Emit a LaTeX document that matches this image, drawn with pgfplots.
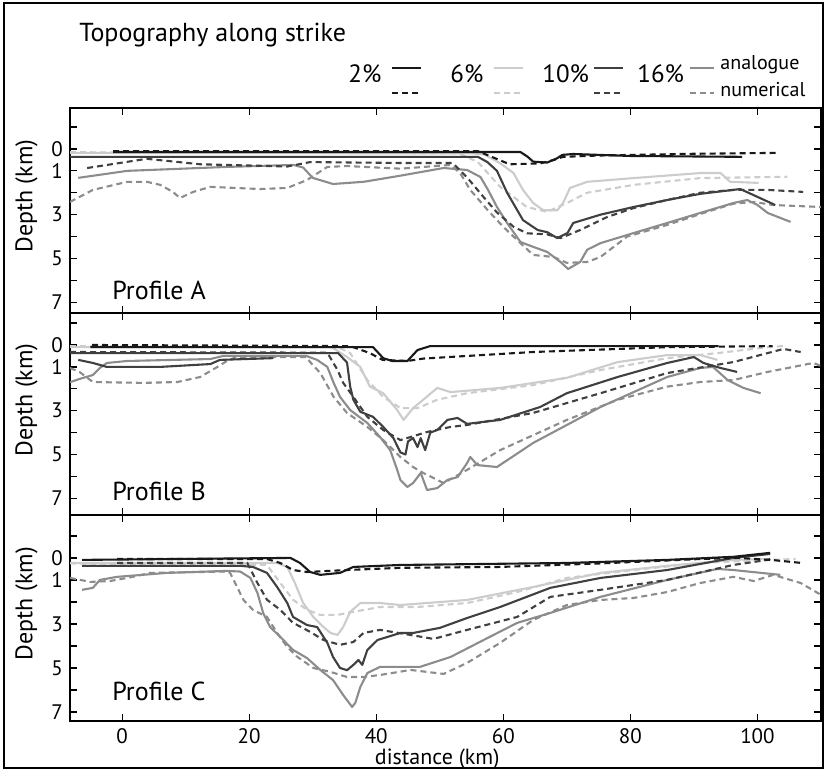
\documentclass[border=0pt]{standalone}
\usepackage{fontspec}
\setmainfont{PT Sans}
\usepackage{pgfplots}
\pgfplotsset{compat=1.18}

\definecolor{cA}{gray}{0.10}   % 2%
\definecolor{cB}{gray}{0.80}   % 6%
\definecolor{cC}{gray}{0.25}   % 10%
\definecolor{cD}{gray}{0.55}   % 16%

\tikzset{
  an/.style={line width=1.05pt, line join=round},
  nu/.style={line width=1.05pt, dash pattern=on 3pt off 2pt},
}
\pgfplotsset{
  panel/.style={
    scale only axis, width=375.5pt,
    xmin=-8.2, xmax=110, y dir=reverse,
    xtick={0,20,...,100}, ytick={-1,0,...,7},
    yticklabels={,0,1,,3,,5,,7},
    major tick length=3.5pt,
    tick style={black, line width=0.6pt},
    axis line style={line width=0.8pt},
    tick label style={font=\fontsize{10.5}{12}\selectfont},
    /pgf/number format/assume math mode=true,
    ylabel={Depth (km)},
    ylabel style={at={(axis description cs:-0.058,0.57)}, anchor=center,
                  font=\fontsize{12}{14}\selectfont},
    anchor=south west,
  },
}

\begin{document}
\begin{tikzpicture}
\path[use as bounding box] (0,0) rectangle (413.5pt,-385.5pt);
\draw[line width=1pt] (2pt,-1.5pt) rectangle (411.5pt,-384pt);

% title and legend
\node[anchor=base west, inner sep=0pt, font=\fontsize{13}{15}\selectfont] at (39.5pt,-20.5pt) {Topography along strike};
\begin{scope}[font=\fontsize{12.5}{14}\selectfont]
\node[anchor=base west, inner sep=0pt] at (174pt,-41.5pt) {2\%};
\draw[cA, an] (196pt,-34pt) -- (210.5pt,-34pt);
\draw[cA, nu] (196pt,-46.5pt) -- (210.5pt,-46.5pt);
\node[anchor=base west, inner sep=0pt] at (225pt,-41.5pt) {6\%};
\draw[cB, an] (247pt,-34pt) -- (261.5pt,-34pt);
\draw[cB, nu] (247pt,-46.5pt) -- (261.5pt,-46.5pt);
\node[anchor=base west, inner sep=0pt] at (271pt,-41.5pt) {10\%};
\draw[cC, an] (297pt,-34pt) -- (311.5pt,-34pt);
\draw[cC, nu] (297pt,-46.5pt) -- (311.5pt,-46.5pt);
\node[anchor=base west, inner sep=0pt] at (318.5pt,-41.5pt) {16\%};
\draw[cD, an] (345pt,-34pt) -- (357pt,-34pt);
\draw[cD, nu] (345pt,-46.5pt) -- (357pt,-46.5pt);
\end{scope}
\node[anchor=west, inner sep=0pt, font=\fontsize{10}{12}\selectfont] at (360pt,-32.5pt) {analogue};
\node[anchor=west, inner sep=0pt, font=\fontsize{10}{12}\selectfont] at (360pt,-45pt) {numerical};

% ---------------- Profile A ----------------
\begin{axis}[panel, at={(35pt,-156.5pt)}, height=102.5pt,
  ymin=-1.87, ymax=7.49, xticklabels={}]
\addplot[cB, nu] coordinates {(-8.2,0.15)(53,0.2)(56,0.6)(59.5,1.73)(63.7,2.65)(66.9,2.87)(70,2.47)(73.2,2.0)(80.5,1.64)(91,1.33)(104.7,1.27)};
\addplot[cB, an] coordinates {(-8.2,0.18)(55,0.2)(57,0.25)(59.5,0.65)(61.6,1.1)(63.1,1.87)(64.7,2.47)(66.3,2.8)(68.5,2.8)(69.4,2.47)(70.5,1.78)(73.2,1.5)(80.5,1.33)(91,1.1)(94.2,1.1)(95.7,1.5)(100.2,1.55)};
\addplot[cD, nu] coordinates {(-8.2,2.42)(-4.6,1.87)(0.8,1.5)(3.9,1.5)(6,1.64)(8,1.96)(9.1,2.24)(11.2,1.96)(13.9,1.73)(21.7,1.83)(26,1.78)(29.1,1.42)(32.3,0.82)(35.4,0.78)(43.8,0.9)(51.7,0.73)(53.2,1.1)(54.8,1.87)(57.5,2.78)(60,3.56)(62.7,4.3)(64.7,4.84)(67.9,4.93)(70,5.2)(73.2,5.16)(75.3,4.93)(79.5,4.0)(85.8,3.47)(91,2.97)(96.2,2.5)(99.4,2.42)(102.5,2.56)(110,2.65)};
\addplot[cD, an] coordinates {(-6.9,1.32)(0.8,1.0)(16.5,0.82)(27,0.73)(28.5,0.85)(30,1.32)(33.2,1.6)(38,1.5)(43.8,1.22)(50.6,0.87)(54.3,0.96)(56.4,1.28)(57.6,1.87)(59,2.65)(60.6,3.38)(62.7,4.25)(64.7,4.47)(66.9,4.7)(69,5.16)(70.2,5.48)(72.1,5.16)(73.2,4.6)(75.3,4.3)(80.5,3.84)(85.8,3.38)(91,2.92)(96.2,2.47)(98.4,2.33)(100,2.56)(101.6,2.92)(105.2,3.33)};
\addplot[cC, nu] coordinates {(-5.5,0.87)(3.9,0.45)(12.3,0.7)(26,0.8)(29.6,0.6)(43.8,0.64)(52,0.64)(54.3,1.3)(56.9,2.2)(59,2.9)(61.6,3.55)(63.7,3.85)(66.9,3.9)(69,4.07)(72.1,3.7)(76.4,3.1)(80.5,2.7)(85.8,2.33)(91,2.0)(96.2,1.87)(101.6,1.87)(107.2,1.96)};
\addplot[cC, an] coordinates {(-8.2,0.36)(56,0.36)(57.5,0.6)(59,1.0)(60.6,2.0)(63.1,3.25)(65.4,3.7)(66.9,3.8)(68.5,4.07)(70.1,3.84)(71,3.38)(75.3,3.0)(80.5,2.65)(85.8,2.33)(91,2.05)(97.3,1.83)(102.8,2.56)};
\addplot[cA, nu] coordinates {(-1.4,0.1)(56,0.1)(58.5,0.4)(61,0.7)(65.8,0.66)(68,0.5)(69.4,0.36)(75,0.3)(90,0.22)(103,0.18)};
\addplot[cA, an] coordinates {(-1.4,0.14)(62.7,0.14)(63.8,0.35)(64.7,0.58)(66.9,0.62)(68.5,0.42)(69.3,0.27)(71,0.23)(80,0.32)(97.6,0.36)};
\node[anchor=base west, font=\fontsize{13}{15}\selectfont] at (rel axis cs:0.047,0.068) {Profile A};
\end{axis}

% ---------------- Profile B ----------------
\begin{axis}[panel, at={(35pt,-257.5pt)}, height=101pt,
  ymin=-1.46, ymax=7.76, xticklabels={}]
\addplot[cB, nu] coordinates {(-8.2,0.05)(34,0.1)(35.9,0.37)(38.6,1.6)(41.1,2.37)(43.8,2.88)(46.5,2.88)(49.6,2.5)(54.3,2.2)(64.7,1.83)(75.3,1.14)(85.8,0.6)(93.7,0.37)(101.6,0.1)(104,0.05)};
\addplot[cB, an] coordinates {(-8.2,0.1)(33,0.1)(35.4,0.55)(37.5,1.0)(39,1.9)(41.1,2.2)(43.3,2.97)(44.3,3.42)(45.8,2.88)(47.4,2.5)(49.6,1.96)(51.7,2.15)(59.5,1.96)(70,1.5)(78,0.78)(85.8,0.46)(91,0.46)(93.7,0.68)};
\addplot[cD, nu] coordinates {(-8.2,1.05)(-6.7,1.23)(-4.6,1.69)(3.3,1.73)(8.7,1.69)(12.3,1.46)(15,1.0)(16.5,0.73)(18,0.55)(29,0.55)(29.6,0.78)(31.2,1.28)(33.3,2.37)(35.4,3.1)(38.6,3.74)(41.1,4.34)(43.8,5.11)(45.8,5.57)(47.4,5.84)(50.6,6.3)(54.3,5.7)(59.5,4.8)(70,3.42)(78,2.5)(85.8,1.9)(91,1.69)(96.2,1.6)(101.6,1.23)(108.8,0.82)(110,0.96)};
\addplot[cD, an] coordinates {(-8.2,1.7)(-6.7,1.55)(-4.6,1.37)(-3.5,1.05)(-2.4,0.82)(0.8,0.73)(13.9,0.64)(15.9,0.5)(29,0.5)(30.7,0.68)(32.3,1.0)(33.3,1.73)(34.3,2.37)(35.9,2.97)(38.6,3.56)(40.6,4.2)(42.2,4.8)(43.3,5.7)(43.8,6.16)(44.9,6.48)(45.8,6.3)(47,5.84)(48,6.62)(49.6,6.53)(51.2,6.16)(52.8,6.03)(54.3,5.39)(54.8,5.11)(55.9,5.48)(59,5.57)(64.7,4.47)(75.3,2.83)(85.8,1.46)(91,1.05)(93,1.0)(95.3,1.6)(97.8,1.96)(100.5,2.2)};
\addplot[cC, nu] coordinates {(-8.2,0.32)(32.3,0.35)(33.9,1.14)(34.8,1.73)(36.4,2.37)(38.6,3.28)(41.1,3.88)(43.8,4.34)(45.4,4.2)(48,3.97)(51.7,3.74)(54.3,3.65)(64.7,3.1)(75.3,2.2)(85.8,1.28)(96.2,0.78)(104.1,0.18)(106.8,0.32)};
\addplot[cC, an] coordinates {(-6.9,0.68)(-4.6,0.82)(-2.4,1.0)(6,1.0)(13.9,0.87)(15.4,0.68)(23.8,0.6)};
\addplot[cC, an] coordinates {(-8.2,0.37)(34,0.37)(35.4,0.8)(35.9,1.9)(36.4,2.5)(37.5,3.05)(39.5,3.28)(41.1,3.74)(42.7,4.25)(43.8,4.9)(44.6,5.0)(45,4.4)(45.8,4.25)(46.5,4.66)(47,4.25)(47.7,4.8)(48.5,4.0)(49.6,3.88)(51.2,3.42)(52.8,3.33)(54.3,3.6)(59.5,3.42)(65.8,2.83)(70,2.2)(78,1.46)(85.8,0.82)(90,0.55)(91.5,0.82)(94.2,1.05)(96.8,1.23)};
\addplot[cA, nu] coordinates {(-4.7,0)(35.9,0.05)(39,0.37)(41,0.68)(44.9,0.73)(47.4,0.62)(54.3,0.5)(64.7,0.32)(85.8,0.1)(102.4,0.05)};
\addplot[cA, an] coordinates {(-5,0.1)(39.5,0.1)(41.1,0.6)(42.5,0.73)(44.9,0.73)(46.5,0.23)(48.5,0.05)(93.9,0.05)};
\node[anchor=base west, font=\fontsize{13}{15}\selectfont] at (rel axis cs:0.047,0.07) {Profile B};
\end{axis}

% ---------------- Profile C ----------------
\begin{axis}[panel, at={(35pt,-360.5pt)}, height=103pt,
  ymin=-1.95, ymax=7.41,
  xlabel={distance (km)},
  xlabel style={at={(axis description cs:0.489,0)}, anchor=base, yshift=-21.8pt,
                font=\fontsize{11}{13}\selectfont}]
\addplot[cB, nu] coordinates {(-8.2,0.25)(22.8,0.32)(24.9,1.14)(26.9,1.9)(29.1,2.36)(31.2,2.59)(33.9,2.59)(36.4,2.45)(40.6,2.23)(46.5,2.23)(54.3,2.05)(62.2,1.55)(70,0.91)(80.5,0.55)(91,0.23)(101.6,0.09)(106,0.05)};
\addplot[cB, an] coordinates {(-8.2,0.23)(24.4,0.23)(26,0.41)(27.2,1.14)(28.5,2.05)(30.1,2.68)(31.7,3.14)(32.8,3.41)(33.9,3.5)(34.8,3.14)(35.9,2.45)(37.5,2.05)(40.6,2.05)(43.8,2.14)(54.3,1.91)(64.7,1.32)(75.3,0.68)(85.8,0.36)(96.2,0.09)(101.6,0.05)};
\addplot[cD, nu] coordinates {(-8.2,0.91)(-5,1.09)(-1.9,1.05)(1.7,0.86)(4.4,0.68)(16.5,0.62)(17,0.68)(18.1,1.32)(19.1,1.91)(20.6,2.36)(22.8,2.68)(24.4,3.41)(26,4.05)(27.6,4.5)(30.1,5.0)(32.8,5.18)(35.4,5.41)(38,5.41)(40.6,5.32)(45.4,5.09)(50.6,5.27)(54.3,4.77)(59.5,3.86)(64.7,2.82)(70,2.14)(75.3,1.91)(80.5,1.82)(85.8,1.55)(91,1.14)(96.2,0.86)(99.4,1.05)(102.5,0.77)(106.8,1.14)(110,1.68)};
\addplot[cD, an] coordinates {(-6.3,1.45)(-4.6,1.36)(-3.5,1.0)(-0.8,0.86)(7.1,0.68)(16.5,0.59)(18.6,0.62)(20.2,0.91)(21.3,1.59)(22.2,2.5)(23.3,3.14)(24.9,3.59)(26.9,4.18)(29.1,4.55)(31.2,5.09)(33.2,5.55)(34.8,6.23)(36.2,6.77)(36.7,6.59)(37.5,5.86)(38.6,5.23)(40.6,4.95)(46.9,4.95)(51.7,4.5)(56.9,3.73)(62.2,2.95)(67.4,2.5)(75.3,1.77)(85.8,1.0)(93.7,0.5)(96.2,0.55)(103.6,0.77)};
\addplot[cC, nu] coordinates {(-0.8,0.23)(19.7,0.23)(21.3,1.14)(22.8,1.9)(24.9,2.36)(26.9,2.95)(29.6,3.36)(31.7,3.73)(34.3,3.95)(36.4,3.82)(38,3.41)(40.6,3.27)(45.4,3.5)(49,3.68)(54.3,3.27)(62.2,2.68)(67.4,1.77)(75.3,1.45)(85.8,1.0)(96.2,0.32)(101.6,0.09)(102.5,0.0)};
\addplot[cC, an] coordinates {(-6.3,0.36)(18.6,0.36)(20.6,0.41)(22.8,0.68)(24.4,1.32)(26,2.05)(26.9,2.68)(29.1,3.05)(30.7,3.14)(32.3,3.86)(33.2,4.5)(34.3,5.0)(35.4,5.1)(36.4,4.86)(37.2,4.64)(37.8,4.86)(38.6,4.18)(40.2,3.73)(43.8,3.41)(45.8,3.41)(50,3.18)(54.3,2.73)(59.5,2.23)(67.4,1.36)(75.3,0.91)(85.8,0.55)(96.2,0.0)(102,-0.18)};
\addplot[cA, nu] coordinates {(-0.8,0.05)(22.8,0.05)(24.9,0.23)(26.9,0.55)(29.1,0.64)(35.4,0.55)(43.8,0.45)(59.5,0.41)(75.3,0.25)(91,0.05)(97,0.0)(102.5,0.1)(107,0.23)};
\addplot[cA, an] coordinates {(-6.3,0.09)(26.5,0.0)(28,0.23)(29.6,0.64)(31.2,0.77)(34.3,0.68)(36.4,0.41)(43.8,0.32)(70,0.23)(85.8,0.09)(96.2,-0.05)(102,-0.23)};
\node[anchor=base west, font=\fontsize{13}{15}\selectfont] at (rel axis cs:0.047,0.10) {Profile C};
\end{axis}
\end{tikzpicture}
\end{document}
